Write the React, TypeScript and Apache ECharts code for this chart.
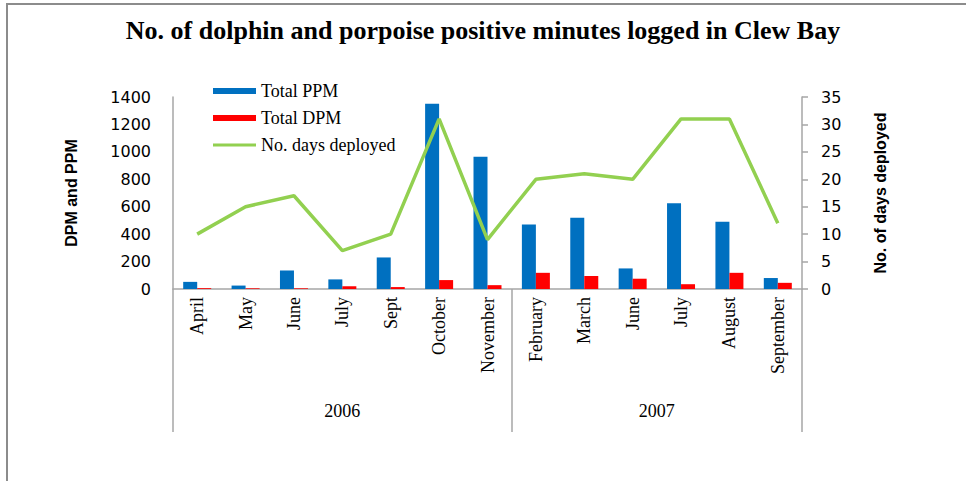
import React, { useEffect, useRef } from "react";
import * as echarts from "echarts";

const categories = ["April", "May", "June", "July", "Sept", "October", "November", "February", "March", "June", "July", "August", "September"];
const totalPPM = [52, 25, 135, 70, 230, 1350, 965, 470, 520, 150, 625, 490, 80];
const totalDPM = [6, 5, 5, 20, 14, 65, 28, 118, 95, 75, 35, 118, 45];
const daysDeployed = [10, 15, 17, 7, 10, 31, 9, 20, 21, 20, 31, 31, 12];
const years = ["2006", "2007"];
const yearSpans = [7, 6];
const leftTicks = { min: 0, max: 1400, interval: 200 };
const rightTicks = { min: 0, max: 35, interval: 5 };

export default function App() {
  const ref = useRef<HTMLDivElement>(null);
  useEffect(() => {
    if (!ref.current) return;
    const chart = echarts.init(ref.current, null, { renderer: "svg" });
    const bounds: number[] = [0];
    yearSpans.forEach((s) => bounds.push(bounds[bounds.length - 1] + s));
    const mids = yearSpans.map((s, i) => bounds[i] + s / 2);
    const gray = "#A6A6A6";
    const serif = "'Liberation Serif', 'Times New Roman', serif";
    const sans = "'DejaVu Sans', Verdana, sans-serif";
    const narrow = "'Liberation Sans Narrow', 'Arial Narrow', 'Liberation Sans', sans-serif";
    chart.setOption({
      animation: false,
      backgroundColor: "#fff",
      title: {
        text: "No. of dolphin and porpoise positive minutes logged in Clew Bay",
        left: "center",
        top: 12,
        textStyle: { fontFamily: serif, fontWeight: "bold", fontSize: 26, color: "#000" },
      },
      graphic: [
        {
          type: "rect",
          shape: { x: 7, y: 4, width: 980, height: 500 },
          style: { fill: "none", stroke: "#8C8C8C", lineWidth: 2 },
          silent: true,
        },
      ],
      legend: {
        orient: "vertical",
        left: 208,
        top: 77,
        itemWidth: 43,
        itemHeight: 6,
        itemGap: 9,
        textStyle: { fontFamily: serif, fontSize: 18, color: "#000" },
        data: [
          { name: "Total PPM", icon: "rect" },
          { name: "Total DPM", icon: "rect" },
          { name: "No. days deployed", icon: "path://M0,0H40V3H0Z" },
        ],
      },
      grid: { left: 173, right: 164, top: 97, bottom: 192, containLabel: false },
      xAxis: [
        {
          type: "category",
          data: categories,
          axisLine: { show: true, lineStyle: { color: gray, width: 1.5 } },
          axisTick: { show: false },
          axisLabel: {
            rotate: 90,
            interval: 0,
            margin: 8,
            fontFamily: serif,
            fontSize: 18,
            color: "#000",
          },
        },
        {
          type: "value",
          min: 0,
          max: categories.length,
          position: "bottom",
          axisLine: { show: false },
          splitLine: { show: false },
          axisTick: {
            show: true,
            customValues: bounds,
            length: 143,
            lineStyle: { color: gray, width: 1.5 },
          },
          axisLabel: {
            customValues: mids,
            margin: 113,
            fontFamily: serif,
            fontSize: 18,
            color: "#000",
            formatter: (v: number) => {
              const i = mids.indexOf(v);
              return i >= 0 ? years[i] : "";
            },
          },
        },
      ],
      yAxis: [
        {
          type: "value",
          ...leftTicks,
          position: "left",
          name: "DPM and PPM",
          nameLocation: "middle",
          nameRotate: 90,
          nameGap: 94,
          nameTextStyle: { fontFamily: narrow, fontWeight: "bold", fontSize: 16, color: "#000" },
          axisLine: { show: true, lineStyle: { color: gray, width: 1.5 } },
          axisTick: { show: false },
          splitLine: { show: false },
          axisLabel: { margin: 22, fontFamily: sans, fontSize: 16, color: "#000", formatter: (v: number) => String(v) },
        },
        {
          type: "value",
          ...rightTicks,
          position: "right",
          name: "No. of days deployed",
          nameLocation: "middle",
          nameRotate: 90,
          nameGap: 70,
          nameTextStyle: { fontFamily: narrow, fontWeight: "bold", fontSize: 16, color: "#000" },
          axisLine: { show: true, lineStyle: { color: gray, width: 1.5 } },
          axisTick: { show: true, length: 6, lineStyle: { color: gray, width: 1.5 } },
          splitLine: { show: false },
          axisLabel: { margin: 19, fontFamily: sans, fontSize: 16, color: "#000" },
        },
      ],
      series: [
        {
          name: "Total PPM",
          type: "bar",
          data: totalPPM,
          barWidth: 14,
          barGap: "0%",
          itemStyle: { color: "#0070C0" },
        },
        {
          name: "Total DPM",
          type: "bar",
          data: totalDPM,
          barWidth: 14,
          barGap: "0%",
          itemStyle: { color: "#FF0000" },
        },
        {
          name: "No. days deployed",
          type: "line",
          yAxisIndex: 1,
          data: daysDeployed,
          symbol: "none",
          lineStyle: { color: "#92D050", width: 3.5 },
          itemStyle: { color: "#92D050" },
        },
      ],
    });
    return () => chart.dispose();
  }, []);
  return (
    <div
      ref={ref}
      style={{ position: "fixed", left: 0, top: 0, width: 966, height: 481 }}
    />
  );
}
